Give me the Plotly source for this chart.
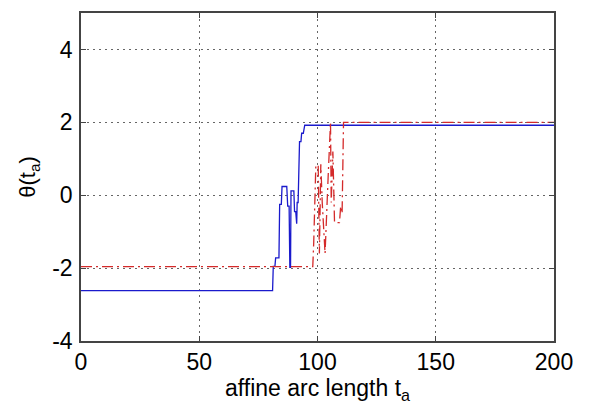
import plotly.graph_objects as go

# blue solid series
t_blue = [0, 81.0, 81.3, 82.0, 82.3, 83.7, 84.0, 84.7, 85.0, 87.0, 87.4, 88.0, 88.3, 88.6,
          88.8, 90.0, 90.3, 90.8, 91.2, 91.4, 91.8, 92.2, 92.4, 93.0, 93.3, 94.0, 94.6, 200]
th_blue = [-2.62, -2.62, -1.95, -1.95, -1.72, -1.72, -0.25, -0.25, 0.24, 0.24, -0.3, -0.3, -1.98, -1.98,
           0.12, 0.12, -0.45, -0.45, -0.78, -0.2, -0.2, 0.9, 1.47, 1.47, 1.70, 1.70, 1.92, 1.92]

# red dash-dot series
t_red = [0, 98.0, 98.4, 99.3, 100.3, 100.8, 101.4, 102.0, 103.2, 103.8, 104.5, 105.5, 105.8,
         106.5, 107.2, 109.3, 109.8, 110.4, 111.0, 200]
th_red = [-1.96, -1.96, -1.3, 0.82, 0.82, -1.6, 0.85, -0.2, -1.6, -0.4, 0.5, 2.0, -0.2,
          1.2, -0.75, -0.75, -0.3, -0.5, 2.0, 2.0]

x_ticks = [0, 50, 100, 150, 200]
y_ticks = [-4, -2, 0, 2, 4]

fig = go.Figure()
fig.add_trace(go.Scatter(x=t_blue, y=th_blue, mode="lines",
                         line=dict(color="#1a1acc", width=1.3), showlegend=False))
fig.add_trace(go.Scatter(x=t_red, y=th_red, mode="lines",
                         line=dict(color="#d42a2a", width=1.3, dash="11px,4px,2px,4px"),
                         showlegend=False))

font = "Liberation Sans, Arial, sans-serif"
axis_common = dict(showline=True, linecolor="#444444", linewidth=1.5, mirror="ticks",
                   ticks="inside", ticklen=5, tickcolor="#444444",
                   showgrid=True, gridcolor="#666666", gridwidth=1, griddash="1.5px,4.5px",
                   zeroline=False, tickfont=dict(family=font, size=23, color="#000000"))

fig.update_layout(
    width=604, height=411,
    margin=dict(l=81, r=50, t=11, b=70),
    paper_bgcolor="white", plot_bgcolor="white",
    xaxis=dict(range=[0, 200], tickvals=x_ticks, ticktext=[str(v) for v in x_ticks],
               ticklabelstandoff=0,
               title=dict(text="affine arc length t<sub>a</sub>", standoff=4,
                          font=dict(family=font, size=23, color="#000000")),
               **axis_common),
    yaxis=dict(range=[-4, 5], tickvals=y_ticks, ticktext=[str(v) for v in y_ticks],
               ticklabelstandoff=2,
               title=dict(text="θ(t<sub>a</sub>)", standoff=10,
                          font=dict(family=font, size=22, color="#000000")),
               **axis_common),
)

fig.write_html("out.html")
